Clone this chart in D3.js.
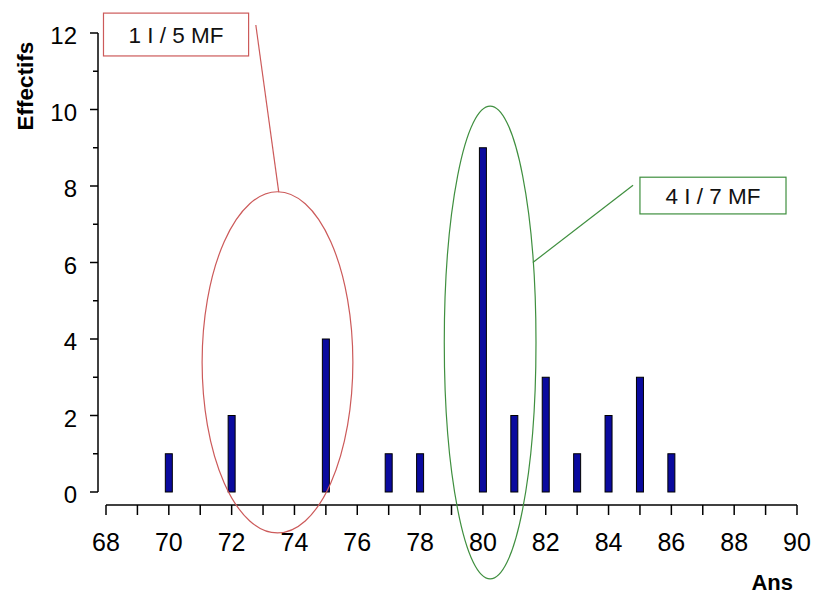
<!DOCTYPE html>
<html>
<head>
<meta charset="utf-8">
<script src="https://cdn.jsdelivr.net/npm/d3@7"></script>
<style>
  html, body { margin: 0; padding: 0; background: #fff; }
  svg { display: block; font-family: "Liberation Sans", Arial, sans-serif; }
</style>
</head>
<body>
<svg id="chart" width="813" height="594"></svg>
<script>
// Ages (years) and counts of subjects per age
const ages   = [70, 72, 75, 77, 78, 80, 81, 82, 83, 84, 85, 86];
const counts = [ 1,  2,  4,  1,  1,  9,  2,  3,  1,  2,  3,  1];

// Axis ticks
const xTicks = [68, 70, 72, 74, 76, 78, 80, 82, 84, 86, 88, 90];
const xMinorTicks = d3.range(68, 91, 1);
const yTicks = [0, 2, 4, 6, 8, 10, 12];
const yMinorTicks = [1, 3, 5, 7, 9, 11];

// Group annotations: ellipse in data units + label
const groupLabels  = ["1 I / 5 MF", "4 I / 7 MF"];
const groupCx      = [73.46, 80.23];
const groupCy      = [3.39, 3.91];
const groupRx      = [2.40, 1.46];   // years
const groupRy      = [4.46, 6.18];   // counts
const groupColors  = ["#cc5a5a", "#3f8f3f"];

const svg = d3.select("#chart");

const x = d3.scaleLinear().domain([68, 90]).range([106, 797]);
const y = d3.scaleLinear().domain([0, 12]).range([492, 33]);

// X axis (offset below the plot)
const xAxisY = 505;
const gx = svg.append("g").attr("transform", `translate(0,${xAxisY})`);
gx.append("line")
  .attr("x1", x(68)).attr("x2", x(90))
  .attr("stroke", "#000").attr("stroke-width", 1.5);
gx.selectAll("line.tick").data(xMinorTicks).join("line")
  .attr("class", "tick")
  .attr("x1", d => x(d)).attr("x2", d => x(d))
  .attr("y1", 0).attr("y2", 10)
  .attr("stroke", "#000").attr("stroke-width", 1.5);
gx.selectAll("text").data(xTicks).join("text")
  .attr("x", d => x(d)).attr("y", 46)
  .attr("text-anchor", "middle")
  .attr("font-size", 25)
  .attr("fill", "#000")
  .text(d => d);

// Y axis (offset left of the plot)
const yAxisX = 98;
const gy = svg.append("g").attr("transform", `translate(${yAxisX},0)`);
gy.append("line")
  .attr("y1", y(0)).attr("y2", y(12))
  .attr("stroke", "#000").attr("stroke-width", 1.5);
gy.selectAll("line.major").data(yTicks).join("line")
  .attr("class", "major")
  .attr("x1", -8).attr("x2", 0)
  .attr("y1", d => y(d)).attr("y2", d => y(d))
  .attr("stroke", "#000").attr("stroke-width", 1.5);
gy.selectAll("line.minor").data(yMinorTicks).join("line")
  .attr("class", "minor")
  .attr("x1", -5).attr("x2", 0)
  .attr("y1", d => y(d)).attr("y2", d => y(d))
  .attr("stroke", "#000").attr("stroke-width", 1.5);
gy.selectAll("text").data(yTicks).join("text")
  .attr("x", -21).attr("y", d => y(d) + 11)
  .attr("text-anchor", "end")
  .attr("font-size", 24)
  .attr("fill", "#000")
  .text(d => d);

// Axis titles
svg.append("text")
  .attr("transform", "translate(33,86) rotate(-90)")
  .attr("text-anchor", "middle")
  .attr("font-size", 22.5).attr("font-weight", "bold")
  .text("Effectifs");
svg.append("text")
  .attr("x", 793).attr("y", 590)
  .attr("text-anchor", "end")
  .attr("font-size", 22).attr("font-weight", "bold")
  .text("Ans");

// Bars
const barW = 7;
svg.append("g").selectAll("rect").data(ages).join("rect")
  .attr("x", (d) => x(d) - barW / 2)
  .attr("y", (d, i) => y(counts[i]))
  .attr("width", barW)
  .attr("height", (d, i) => y(0) - y(counts[i]))
  .attr("fill", "#0a0a9e")
  .attr("stroke", "#000")
  .attr("stroke-width", 1);

// Group ellipses
svg.append("g").selectAll("ellipse").data(groupLabels).join("ellipse")
  .attr("cx", (d, i) => x(groupCx[i]))
  .attr("cy", (d, i) => y(groupCy[i]))
  .attr("rx", (d, i) => x(groupCx[i] + groupRx[i]) - x(groupCx[i]))
  .attr("ry", (d, i) => y(0) - y(groupRy[i]))
  .attr("fill", "none")
  .attr("stroke", (d, i) => groupColors[i])
  .attr("stroke-width", 1.2);

// Callout boxes (position of box in data units) and leader lines
const boxX0 = [67.92, 85.0];
const boxX1 = [72.54, 89.65];
const boxY0 = [12.52, 8.23];
const boxY1 = [11.40, 7.27];
const leadFromX = [72.77, 84.78];
const leadFromY = [12.21, 8.02];
const leadToX   = [73.50, 81.59];
const leadToY   = [7.84, 6.00];

const callouts = svg.append("g");
groupLabels.forEach((lab, i) => {
  callouts.append("line")
    .attr("x1", x(leadFromX[i])).attr("y1", y(leadFromY[i]))
    .attr("x2", x(leadToX[i])).attr("y2", y(leadToY[i]))
    .attr("stroke", groupColors[i]).attr("stroke-width", 1.2);
  const bx = x(boxX0[i]), by = y(boxY0[i]);
  const bw = x(boxX1[i]) - bx, bh = y(boxY1[i]) - by;
  callouts.append("rect")
    .attr("x", bx).attr("y", by).attr("width", bw).attr("height", bh)
    .attr("fill", "#fff")
    .attr("stroke", groupColors[i]).attr("stroke-width", 1.2);
  callouts.append("text")
    .attr("x", bx + bw / 2).attr("y", by + bh / 2 + 8)
    .attr("text-anchor", "middle")
    .attr("font-size", 22.5)
    .attr("fill", "#111")
    .text(lab);
});
</script>
</body>
</html>
